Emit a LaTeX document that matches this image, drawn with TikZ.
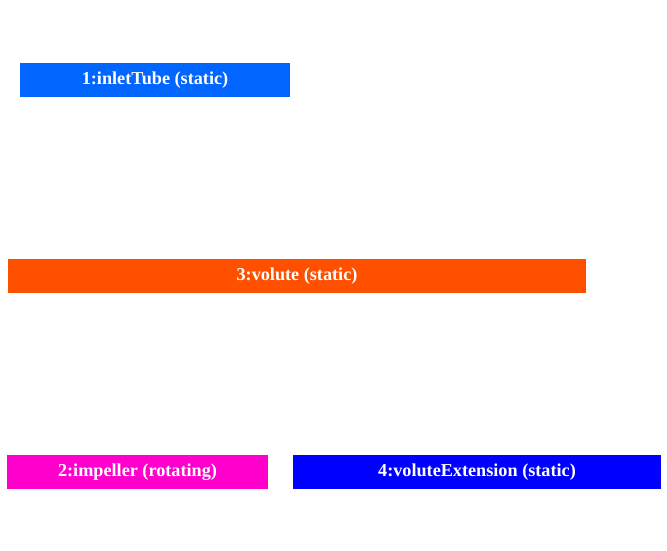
\documentclass[tikz,border=0pt]{standalone}
\usepackage{fontspec}
\setmainfont{Liberation Serif}
\definecolor{cA}{HTML}{0066FF}
\definecolor{cB}{HTML}{FF5000}
\definecolor{cC}{HTML}{FF00CC}
\definecolor{cD}{HTML}{0000FF}
\begin{document}
\begin{tikzpicture}[x=1pt,y=-1pt,
  blk/.style={draw=none,inner sep=0pt,outer sep=0pt,text=white,font=\fontsize{18.2}{21}\selectfont\bfseries,anchor=north west}]
\useasboundingbox (0,0) rectangle (667,551);
\fill[white] (0,0) rectangle (667,551);
\node[blk,fill=cA,minimum width=270pt,minimum height=34pt] (a) at (20,63) {1:inletTube (static)};
\node[blk,fill=cB,minimum width=578pt,minimum height=34pt] (b) at (8,259) {3:volute (static)};
\node[blk,fill=cC,minimum width=261pt,minimum height=34pt] (c) at (7,455) {2:impeller (rotating)};
\node[blk,fill=cD,minimum width=368pt,minimum height=34pt] (d) at (293,455) {4:voluteExtension (static)};
\end{tikzpicture}
\end{document}
